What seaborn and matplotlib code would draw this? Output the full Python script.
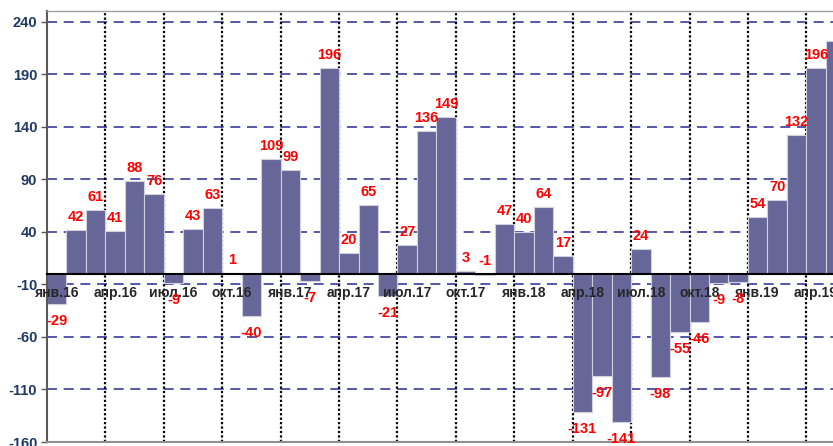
import matplotlib
matplotlib.use("Agg")
import matplotlib.pyplot as plt
import seaborn as sns
import pandas as pd

# ---------------------------------------
# Data
# ---------------------------------------
months = [
    "янв.16", "фев.16", "мар.16", "апр.16", "май.16", "июн.16",
    "июл.16", "авг.16", "сен.16", "окт.16", "ноя.16", "дек.16",
    "янв.17", "фев.17", "мар.17", "апр.17", "май.17", "июн.17",
    "июл.17", "авг.17", "сен.17", "окт.17", "ноя.17", "дек.17",
    "янв.18", "фев.18", "мар.18", "апр.18", "май.18", "июн.18",
    "июл.18", "авг.18", "сен.18", "окт.18", "ноя.18", "дек.18",
    "янв.19", "фев.19", "мар.19", "апр.19", "май.19",
]
values = [
    -29, 42, 61, 41, 88, 76,
    -9, 43, 63, 1, -40, 109,
    99, -7, 196, 20, 65, -21,
    27, 136, 149, 3, -1, 47,
    40, 64, 17, -131, -97, -141,
    24, -98, -55, -46, -9, -8,
    54, 70, 132, 196, 221,
]
y_ticks = [240, 190, 140, 90, 40, -10, -60, -110, -160]

df = pd.DataFrame({"month": months, "value": values})

# ---------------------------------------
# Plot
# ---------------------------------------
sns.set_style("white")
plt.rcParams["font.family"] = ["Liberation Sans", "DejaVu Sans"]
plt.rcParams["font.weight"] = "bold"

bar_color = "#666699"
text_blue = "#1F3864"

fig = plt.figure(figsize=(8.33, 4.46), dpi=100)
ax = fig.add_axes([47 / 833, 4 / 446, 786 / 833, 431 / 446])
ax.set_axisbelow(False)  # tick labels sit on top of the bars

# grid lines behind the bars
for y in y_ticks[:-1]:
    ax.axhline(y, color="#3B3B9C", lw=1.2, ls=(0, (6, 4)), zorder=0.5)
for x in range(3, len(months), 3):
    ax.axvline(x - 0.5, color="black", lw=1.6, ls=(0, (1, 1)), zorder=0.6)

sns.barplot(data=df, x="month", y="value", color=bar_color, saturation=1,
            width=1.0, edgecolor="#D0D0DE", linewidth=0.8, ax=ax, zorder=1)

# value labels
for i, v in enumerate(values):
    if v >= -1:
        ax.annotate(str(v), (i, max(v, 0)), xytext=(0, 9), textcoords="offset pixels",
                    ha="center", va="baseline", color="#FF0000",
                    fontsize=10.5, fontweight="bold", zorder=5)
    else:
        ax.annotate(str(v), (i, v), xytext=(0, -10), textcoords="offset pixels",
                    ha="center", va="top", color="#FF0000",
                    fontsize=10.5, fontweight="bold", zorder=5)

ax.set_xlim(-0.5, -0.5 + 786 / 19.47)
ax.set_ylim(-160, 250)
ax.set_yticks(y_ticks)
ax.set_yticklabels([str(t) for t in y_ticks], color=text_blue,
                   fontsize=10.5, fontweight="bold")

ax.set_xticks(range(0, len(months), 3))
ax.set_xticklabels(months[::3], color=text_blue, fontsize=8.5, fontweight="bold")
ax.tick_params(axis="x", length=0, pad=8.5)
ax.tick_params(axis="y", left=True, length=4, width=1, color="#595959", pad=3)

ax.spines["bottom"].set_position(("data", 0))
ax.spines["bottom"].set_color("black")
ax.spines["bottom"].set_linewidth(1.5)
ax.spines["bottom"].set_zorder(4)
ax.spines["left"].set_color("#595959")
ax.spines["left"].set_linewidth(1.5)
ax.spines["top"].set_color("#A0A0A0")
ax.spines["top"].set_linewidth(1)
ax.spines["right"].set_visible(False)
ax.axhline(-160, color="#909090", lw=1.5, zorder=4, clip_on=False)

ax.set_xlabel("")
ax.set_ylabel("")

fig.savefig("out.png", dpi=100)
